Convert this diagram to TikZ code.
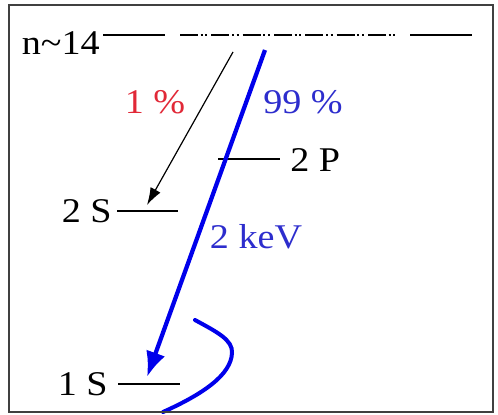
\documentclass[tikz,border=0pt]{standalone}
\usepackage{fontspec}
\setmainfont{Liberation Serif}[FakeStretch=1.1]
\usetikzlibrary{arrows.meta}

\definecolor{decayblue}{RGB}{0,0,235}
\definecolor{textblue}{RGB}{45,45,205}
\definecolor{textred}{RGB}{225,40,55}

\begin{document}
\begin{tikzpicture}[x=0.75pt,y=-0.75pt,
    lvl/.style={line width=1.4pt},
    lbl/.style={font=\fontsize{26}{30}\selectfont, inner sep=0pt},
    thinarrow/.style={line width=0.9pt, -{Latex[length=13pt,width=8.5pt]}},
    bluearrow/.style={decayblue, line width=3.2pt, -{Latex[length=19pt,width=15pt]}}]
\useasboundingbox (0,0) rectangle (498,414);

\coordinate (n14a) at (103,35); \coordinate (n14b) at (165,35);
\coordinate (n14c) at (180,35); \coordinate (n14d) at (397,35);
\coordinate (n14e) at (410,35); \coordinate (n14f) at (472,35);
\coordinate (s2a) at (117,211); \coordinate (s2b) at (178,211);
\coordinate (p2a) at (218,159); \coordinate (p2b) at (280,159);
\coordinate (s1a) at (118,384); \coordinate (s1b) at (180,384);

\node[lbl, anchor=base east] (n14) at (100,54) {n\textasciitilde14};
\node[lbl, anchor=base east] (s2) at (112,222) {2 S};
\node[lbl, anchor=base west] (p2) at (290,171) {2 P};
\node[lbl, anchor=base east] (s1) at (108,395) {1 S};

\draw[lvl] (n14a) -- (n14b);
\draw[lvl, dash pattern=on 13.5pt off 2pt on 1.5pt off 2pt on 1.5pt off 3pt] (n14c) -- (n14d);
\draw[lvl] (n14e) -- (n14f);
\draw[lvl] (s2a) -- (s2b);
\draw[lvl] (p2a) -- (p2b);
\draw[lvl] (s1a) -- (s1b);

\coordinate (bkfrom) at (233,52); \coordinate (bkto) at (147,205);
\coordinate (blfrom) at (265,50); \coordinate (blto) at (147,377);
\draw[thinarrow] (bkfrom) -- (bkto);
\draw[bluearrow] (blfrom) -- (blto);

\node[lbl, text=textred] (pone) at (155,102) {1 \%};
\node[lbl, text=textblue] (pnn) at (303,102) {99 \%};
\node[lbl, text=textblue] (kev) at (256,237) {2 keV};

\coordinate (cva) at (195,320); \coordinate (cvm) at (232,353); \coordinate (cvb) at (163,412);
\draw[decayblue, line width=3pt, line cap=round] (cva) .. controls (217,332) and (233,340) .. (cvm)
    .. controls (231,375) and (203,394) .. (cvb);

\draw[line width=1.2pt, black!75] (9,5) rectangle (493,412);
\end{tikzpicture}
\end{document}
